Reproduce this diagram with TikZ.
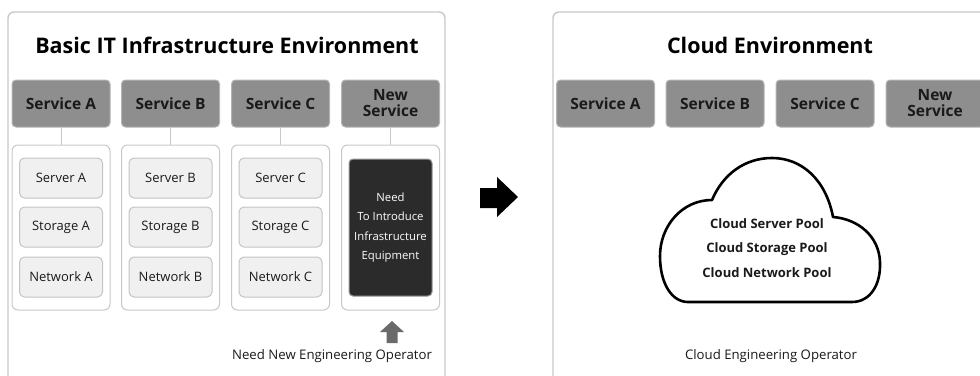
\documentclass[tikz,border=0pt]{standalone}
\usepackage{fontspec}
\setmainfont{Open Sans}
\begin{document}
\begin{tikzpicture}[x=1pt,y=-1pt,
  panel/.style={draw=panelgray,line width=1.4pt,rounded corners=6pt},
  svc/.style={rectangle,rounded corners=4pt,fill=svcfill,draw=svcline,line width=1pt,
    minimum width=98pt,minimum height=47pt,inner sep=1pt,align=center,
    text=textdark,font=\bfseries\fontsize{15.5}{16}\selectfont},
  grp/.style={rectangle,rounded corners=6pt,draw=grpline,line width=1pt,fill=white,
    minimum width=98pt,minimum height=165pt},
  item/.style={rectangle,rounded corners=5pt,fill=itemfill,draw=itemline,line width=1pt,
    minimum width=83pt,minimum height=40pt,inner sep=1pt,text=textdark,
    font=\fontsize{13}{13}\selectfont},
  darkbox/.style={rectangle,rounded corners=4pt,fill=darkfill,draw=darkline,line width=1pt,
    minimum width=83pt,minimum height=137pt,inner sep=1pt,text=white,align=center,
    font=\fontsize{11.3}{19.5}\selectfont},
  conn/.style={draw=grpline,line width=1pt},
  title/.style={text=black,font=\bfseries\fontsize{21.5}{22}\selectfont},
  note/.style={text=textdark,font=\fontsize{13.2}{14}\selectfont},
  pool/.style={text=textdark,align=center,font=\fontsize{13}{24.5}\selectfont\bfseries}
]
\definecolor{panelgray}{HTML}{C8C8C8}
\definecolor{svcfill}{HTML}{8E8E8E}
\definecolor{svcline}{HTML}{B4B4B4}
\definecolor{grpline}{HTML}{C8C8C8}
\definecolor{itemfill}{HTML}{F0F0F0}
\definecolor{itemline}{HTML}{C4C4C4}
\definecolor{darkfill}{HTML}{2B2B2B}
\definecolor{darkline}{HTML}{9A9A9A}
\definecolor{textdark}{HTML}{1A1A1A}
\definecolor{arrowgray}{HTML}{6A6A6A}

\useasboundingbox (0,0) rectangle (980,375);
\clip (0,0) rectangle (980,375);

% outer panels, running past the lower and right edges
\draw[panel] (8,12) rectangle (445,420);
\draw[panel] (553,12) rectangle (1010,420);

% ---- basic IT infrastructure environment ----
\node[title] (ttlL) at (227,45) {Basic IT Infrastructure Environment};

\node[svc] (sA) at (61,103.5) {Service A};
\node[svc] (sB) at (170.5,103.5) {Service B};
\node[svc] (sC) at (280.5,103.5) {Service C};
\node[svc] (sN) at (390.5,103.5) {New\\Service};

\node[grp] (gA) at (61,227.5) {};
\node[grp] (gB) at (170.5,227.5) {};
\node[grp] (gC) at (280.5,227.5) {};
\node[grp] (gN) at (390.5,227.5) {};

\draw[conn] (sA.south) -- (gA.north);
\draw[conn] (sB.south) -- (gB.north);
\draw[conn] (sC.south) -- (gC.north);
\draw[conn] (sN.south) -- (gN.north);

\node[item] (srvA) at (61,178) {Server A};
\node[item] (stoA) at (61,227) {Storage A};
\node[item] (netA) at (61,277) {Network A};
\node[item] (srvB) at (170.5,178) {Server B};
\node[item] (stoB) at (170.5,227) {Storage B};
\node[item] (netB) at (170.5,277) {Network B};
\node[item] (srvC) at (280.5,178) {Server C};
\node[item] (stoC) at (280.5,227) {Storage C};
\node[item] (netC) at (280.5,277) {Network C};

\node[darkbox] (need) at (390.5,227.5) {Need\\To Introduce\\Infrastructure\\Equipment};

% upward block arrow under the new service
\fill[arrowgray] (386.5,343) -- (397.5,343) -- (397.5,332) -- (404,332)
  -- (392,321) -- (380,332) -- (386.5,332) -- cycle;
\node[note] (opL) at (332,356) {Need New Engineering Operator};

% ---- transition arrow ----
\fill[black] (480,188) -- (497,188) -- (497,177) -- (518,197)
  -- (497,217) -- (497,208) -- (480,208) -- cycle;

% ---- cloud environment ----
\node[title] (ttlR) at (770,45) {Cloud Environment};

\node[svc] (cA) at (605.5,103.5) {Service A};
\node[svc] (cB) at (715,103.5) {Service B};
\node[svc] (cC) at (825,103.5) {Service C};
\node[svc] (cN) at (935,103.5) {New\\Service};

% cloud outline
\draw[black,line width=2.6pt,line join=round]
  (688,302) -- (852,302)
  .. controls (870,302) and (881,285) .. (880,262)
  .. controls (879,236) and (858,219) .. (833,217)
  .. controls (826,180) and (802,158) .. (772,158)
  .. controls (745,158) and (723,174) .. (712,200)
  .. controls (682,200) and (660,226) .. (660,256)
  .. controls (660,284) and (672,302) .. (688,302) -- cycle;

\node[pool] (pools) at (767,248) {Cloud Server Pool\\Cloud Storage Pool\\Cloud Network Pool};

\node[note] (opR) at (771,356) {Cloud Engineering Operator};
\end{tikzpicture}
\end{document}
